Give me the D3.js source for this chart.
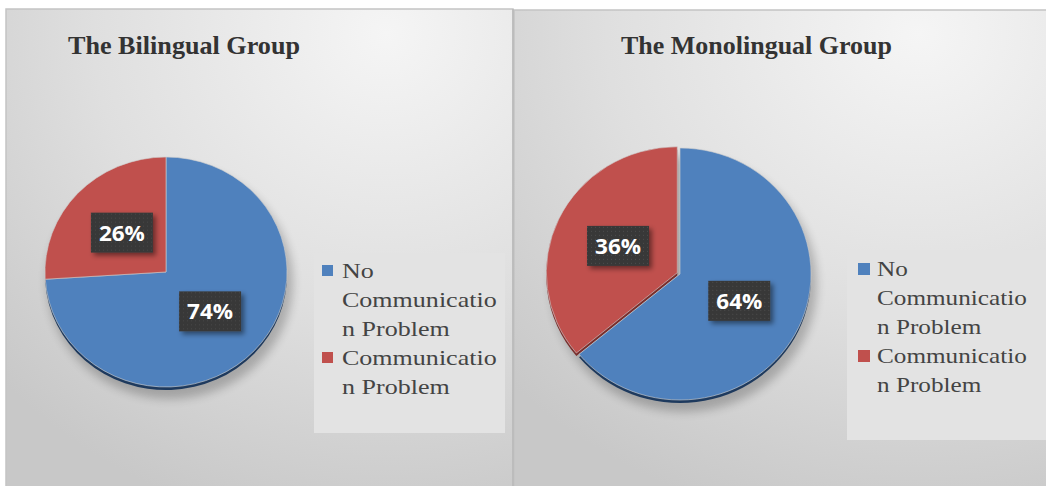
<!DOCTYPE html>
<html><head><meta charset="utf-8">
<script src="https://cdn.jsdelivr.net/npm/d3@7"></script>
<style>html,body{margin:0;padding:0;background:#fff;}svg{display:block;}</style>
</head><body>
<svg id="c" width="1046" height="486"></svg>
<script>
// ---- data ----
const categories = ["No Communication Problem", "Communication Problem"];
const legendLines = [["No", "Communicatio", "n Problem"], ["Communicatio", "n Problem"]];
const groupTitles = ["The Bilingual Group", "The Monolingual Group"];
const bilingualValues = [74, 26];
const monolingualValues = [64, 36];
const colors = ["#4f81bd", "#c0504d"];
const rimColors = ["#1e3a5e", "#7a2e2c"];

const svg = d3.select("#c");
const defs = svg.append("defs");

const bg = defs.append("radialGradient").attr("id", "bg").attr("cx", "75%").attr("cy", "5%").attr("r", "105%");
bg.append("stop").attr("offset", "0%").attr("stop-color", "#f5f5f5");
bg.append("stop").attr("offset", "55%").attr("stop-color", "#dfdfdf");
bg.append("stop").attr("offset", "100%").attr("stop-color", "#c8c8c8");

const blur = defs.append("filter").attr("id", "blur").attr("x", "-20%").attr("y", "-20%").attr("width", "140%").attr("height", "140%");
blur.append("feGaussianBlur").attr("stdDeviation", 5);

const sh = defs.append("filter").attr("id", "boxsh").attr("x", "-30%").attr("y", "-30%").attr("width", "160%").attr("height", "160%");
sh.append("feDropShadow").attr("dx", 3).attr("dy", 3).attr("stdDeviation", 2.5).attr("flood-color", "#000").attr("flood-opacity", 0.45);

const pat = defs.append("pattern").attr("id", "dots").attr("width", 4).attr("height", 4).attr("patternUnits", "userSpaceOnUse");
pat.append("rect").attr("width", 4).attr("height", 4).attr("fill", "#383838");
pat.append("rect").attr("x", 1).attr("y", 1).attr("width", 1).attr("height", 1).attr("fill", "#4c4c4c");

const panels = [
  {title: groupTitles[0], values: bilingualValues, px: 6, py: 9, pw: 507, ph: 480,
   tx: 68, ty: 54, tl: 232, cx: 166, cy: 272, rx: 121, ry: 115, explode: 0,
   lx: 314, ly: 253, lw: 191, lh: 180, sq: 11, sqx: 322, tx0: 342, base: 278, lineH: 29, scaleX: 1.24},
  {title: groupTitles[1], values: monolingualValues, px: 514, py: 10, pw: 540, ph: 480,
   tx: 621, ty: 54, tl: 271, cx: 680, cy: 274, rx: 131, ry: 126, explode: 3,
   lx: 847, ly: 250, lw: 205, lh: 190, sq: 12, sqx: 858, tx0: 877, base: 276, lineH: 29, scaleX: 1.2}
];

panels.forEach(p => {
  const g = svg.append("g");
  g.append("rect").attr("x", p.px).attr("y", p.py).attr("width", p.pw).attr("height", p.ph)
    .attr("fill", "url(#bg)").attr("stroke", "#c4c4c4").attr("stroke-width", 1.5);

  g.append("text").attr("x", p.tx).attr("y", p.ty)
    .attr("font-family", "'Liberation Serif', 'Times New Roman', serif").attr("font-weight", "bold")
    .attr("font-size", 25).attr("fill", "#333")
    .attr("textLength", p.tl).attr("lengthAdjust", "spacingAndGlyphs").text(p.title);

  const pie = d3.pie().sort(null).value(d => d)(p.values);
  const R = p.ry;
  const sx = p.rx / p.ry;
  const arc = d3.arc().innerRadius(0).outerRadius(R);

  // shadow
  g.append("ellipse").attr("cx", p.cx + 4).attr("cy", p.cy + 10).attr("rx", p.rx + 2).attr("ry", p.ry + 2)
    .attr("fill", "#000").attr("opacity", 0.22).attr("filter", "url(#blur)");

  const off = (d, k) => {
    const m = (d.startAngle + d.endAngle) / 2;
    return d.index === 1 ? [Math.sin(m) * k, -Math.cos(m) * k] : [0, 0];
  };
  // rim (3D edge)
  const rim = g.append("g");
  pie.forEach(d => {
    const o = off(d, p.explode);
    rim.append("path").attr("d", arc(d))
      .attr("transform", `translate(${p.cx + o[0]},${p.cy + o[1] + 3}) scale(${sx},1)`)
      .attr("fill", rimColors[d.index]);
  });
  const top = g.append("g");
  pie.forEach(d => {
    const o = off(d, p.explode);
    top.append("path").attr("d", arc(d))
      .attr("transform", `translate(${p.cx + o[0]},${p.cy + o[1]}) scale(${sx},1)`)
      .attr("fill", colors[d.index]).attr("stroke", "#d0d0d0").attr("stroke-width", 0.6);
  });

  // labels
  pie.forEach(d => {
    const c = arc.centroid(d);
    const o = off(d, p.explode);
    const x = p.cx + o[0] + c[0] * sx, y = p.cy + o[1] + c[1];
    const lg = g.append("g").attr("transform", `translate(${x},${y})`);
    lg.append("rect").attr("x", -31).attr("y", -20).attr("width", 62).attr("height", 40)
      .attr("fill", "url(#dots)").attr("filter", "url(#boxsh)");
    lg.append("text").attr("x", 0).attr("y", 8).attr("text-anchor", "middle")
      .attr("font-family", "'Open Sans', 'Liberation Sans', sans-serif").attr("font-weight", "bold")
      .attr("font-size", 21).attr("fill", "#fff")
      .attr("textLength", 46).attr("lengthAdjust", "spacingAndGlyphs")
      .text(Math.round(d.data) + "%");
  });

  // legend
  g.append("rect").attr("x", p.lx).attr("y", p.ly).attr("width", p.lw).attr("height", p.lh).attr("fill", "#e3e3e3");
  let line = 0;
  categories.forEach((cat, i) => {
    const by = p.base + line * p.lineH;
    g.append("rect").attr("x", p.sqx).attr("y", by - 13).attr("width", p.sq).attr("height", p.sq).attr("fill", colors[i]);
    legendLines[i].forEach((t, j) => {
      g.append("text").attr("transform", `translate(${p.tx0},${p.base + (line + j) * p.lineH}) scale(${p.scaleX},1)`)
        .attr("font-family", "'Liberation Serif', 'Times New Roman', serif").attr("font-size", 21)
        .attr("fill", "#444").text(t);
    });
    line += legendLines[i].length;
  });
});
// separator between panels
svg.append("line").attr("x1", 513).attr("x2", 513).attr("y1", 9).attr("y2", 486).attr("stroke", "#b8b8b8").attr("stroke-width", 1.5);
</script>
</body></html>
